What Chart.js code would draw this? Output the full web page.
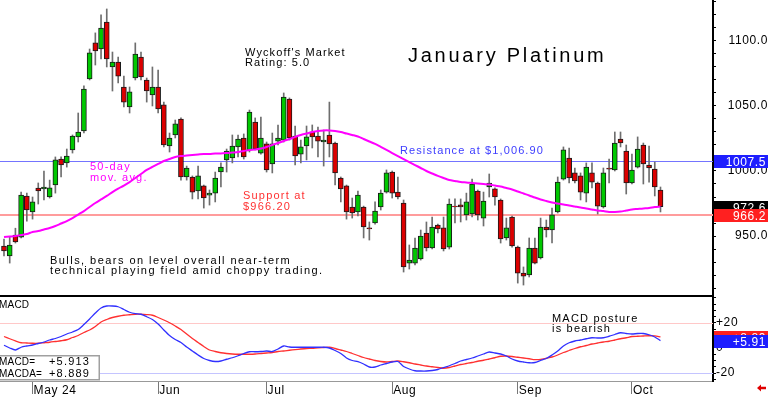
<!DOCTYPE html>
<html>
<head>
<meta charset="utf-8">
<script src="https://cdn.jsdelivr.net/npm/chart.js@4.4.1/dist/chart.umd.min.js"></script>
<style>
html, body { margin: 0; padding: 0; background: #fff; }
#wrap { position: relative; width: 768px; height: 397px; overflow: hidden; }
#priceChart { position: absolute; left: 0; top: 0; }
#macdChart { position: absolute; left: 0; top: 297px; }
</style>
</head>
<body>
<div id="wrap">
  <canvas id="priceChart" width="768" height="297"></canvas>
  <canvas id="macdChart" width="768" height="100"></canvas>
</div>
<script>
// daily candles, 24 Apr 2024 .. 8 Oct 2024
const opens = [942.3, 934.6, 950.8, 949.2, 980.8, 968.5, 986.9, 986.2, 980.0, 989.2,
  1009.2, 1006.2, 1016.2, 1026.2, 1030.8, 1070.8, 1098.5, 1093.8, 1114.6, 1080.0,
  1083.8, 1064.6, 1049.2, 1071.5, 1087.7, 1070.0, 1058.5, 1064.6, 1050.8, 1019.2,
  1027.7, 1040.0, 995.4, 995.4, 984.6, 988.5, 981.5, 983.0, 999.2, 1008.5,
  1010.0, 1018.5, 1025.4, 1016.2, 1037.7, 1013.8, 1020.8, 1005.4, 1023.0, 1023.8,
  1055.4, 1026.9, 1013.0, 1019.2, 1030.0, 1026.9, 1022.3, 1027.7, 1021.5, 994.6,
  988.5, 972.3, 968.5, 972.3, 956.2, 960.0, 972.3, 983.8, 999.2, 983.8,
  975.4, 929.2, 929.2, 932.3, 952.3, 940.8, 958.5, 956.2, 941.5, 973.0,
  974.0, 966.2, 966.9, 984.6, 963.8, 987.7, 986.2, 977.7, 948.5, 964.6,
  941.5, 921.5, 920.0, 940.8, 933.1, 956.9, 954.6, 968.5, 993.8, 1010.0,
  998.5, 996.2, 983.0, 998.5, 990.8, 972.3, 1002.3, 1000.8, 1024.6, 1015.4,
  990.8, 1003.0, 1020.0, 1004.6, 1001.5, 985.4];
const highs = [947.7, 949.2, 956.0, 983.8, 983.0, 980.0, 990.8, 1000.0, 993.0, 1010.8,
  1010.8, 1016.9, 1027.7, 1044.6, 1065.4, 1093.8, 1106.2, 1120.0, 1124.6, 1091.5,
  1087.7, 1073.0, 1064.6, 1098.5, 1091.5, 1071.5, 1080.0, 1077.7, 1053.0, 1029.2,
  1039.2, 1040.8, 1003.8, 996.2, 1003.8, 989.2, 985.4, 999.2, 1006.2, 1016.9,
  1027.7, 1027.7, 1028.5, 1046.9, 1040.8, 1041.5, 1022.3, 1029.2, 1035.4, 1060.0,
  1056.2, 1034.6, 1023.8, 1034.6, 1035.4, 1033.8, 1031.5, 1053.0, 1022.3, 995.4,
  989.2, 979.2, 984.6, 973.0, 960.8, 976.2, 985.4, 1000.8, 1000.0, 995.4,
  977.7, 943.1, 948.5, 954.6, 960.8, 964.6, 959.2, 964.6, 978.5, 978.5,
  978.5, 983.0, 993.8, 985.4, 983.8, 997.7, 987.0, 978.5, 963.8, 965.4,
  942.3, 926.2, 948.5, 948.5, 963.8, 962.3, 971.5, 995.4, 1018.5, 1017.7,
  1002.3, 998.5, 1006.2, 1006.2, 991.5, 1002.3, 1009.2, 1030.0, 1030.0, 1020.0,
  1013.0, 1026.2, 1021.5, 1019.2, 1006.9, 987.7];
const lows = [934.6, 929.2, 944.6, 948.5, 961.5, 963.0, 974.6, 977.7, 979.2, 983.0,
  995.4, 1003.0, 1013.8, 1022.3, 1029.2, 1070.0, 1081.5, 1086.2, 1080.0, 1061.5,
  1067.7, 1049.2, 1044.6, 1070.0, 1070.0, 1053.0, 1050.0, 1044.6, 1018.5, 1014.6,
  1025.4, 993.0, 993.0, 978.5, 978.5, 971.5, 973.8, 976.2, 987.7, 999.2,
  1006.2, 1010.8, 1009.2, 1014.6, 1016.2, 1013.0, 999.2, 998.5, 1020.0, 1022.3,
  1023.8, 1004.6, 1006.2, 1008.5, 1017.7, 1010.8, 1003.8, 1010.8, 989.2, 976.2,
  963.0, 963.8, 965.4, 948.5, 946.9, 959.2, 970.0, 983.0, 979.2, 978.5,
  922.3, 924.6, 927.7, 931.5, 938.5, 940.0, 952.3, 938.5, 940.0, 960.0,
  960.8, 962.3, 964.6, 962.3, 957.7, 980.0, 973.8, 944.6, 946.9, 941.5,
  913.8, 912.3, 918.5, 928.5, 932.3, 949.2, 944.6, 967.7, 993.0, 990.8,
  990.8, 977.7, 976.2, 987.0, 966.9, 971.5, 990.8, 1000.0, 1018.5, 982.3,
  990.0, 1002.3, 990.0, 991.5, 980.8, 968.5];
const closes = [938.5, 943.1, 945.4, 981.5, 970.0, 976.2, 984.6, 987.7, 987.0, 1008.5,
  1004.6, 1011.5, 1026.9, 1030.0, 1063.0, 1090.8, 1092.3, 1110.0, 1086.2, 1083.8,
  1073.0, 1053.0, 1060.8, 1090.0, 1072.3, 1061.5, 1064.6, 1047.7, 1020.0, 1025.4,
  1036.2, 995.4, 1002.3, 983.8, 996.2, 979.2, 983.0, 994.6, 1003.0, 1015.4,
  1019.2, 1024.6, 1010.8, 1045.4, 1016.9, 1025.4, 1000.8, 1020.8, 1025.4, 1056.9,
  1025.4, 1011.5, 1018.5, 1026.2, 1026.2, 1023.0, 1023.8, 1020.8, 998.5, 986.2,
  968.5, 967.7, 981.5, 956.9, 955.4, 969.2, 983.0, 998.5, 983.0, 980.0,
  926.2, 931.5, 940.8, 950.0, 940.8, 956.9, 955.4, 940.0, 974.6, 972.3,
  972.3, 976.2, 990.0, 966.2, 976.9, 990.8, 980.0, 947.7, 956.2, 942.3,
  921.5, 919.2, 940.8, 929.2, 956.9, 954.6, 966.2, 991.5, 1016.2, 994.6,
  992.3, 983.8, 1003.0, 991.5, 973.0, 998.5, 1001.5, 1021.5, 1021.5, 990.8,
  1000.8, 1016.9, 1005.4, 1002.3, 987.7, 972.6];
const ma50 = [949.2, 949.6, 950.0, 950.8, 951.5, 953.1, 953.8, 955.0, 956.2, 957.7,
  959.6, 961.5, 963.8, 966.5, 969.2, 972.3, 975.4, 978.1, 980.8, 983.8,
  986.5, 988.8, 991.5, 994.6, 997.7, 1000.8, 1003.1, 1005.4, 1007.7, 1009.2,
  1010.8, 1011.5, 1011.9, 1012.3, 1012.7, 1013.1, 1013.1, 1013.5, 1013.5, 1013.8,
  1014.2, 1014.6, 1015.4, 1016.2, 1016.5, 1017.3, 1018.5, 1020.0, 1021.5, 1023.1,
  1024.6, 1026.2, 1027.7, 1028.8, 1030.0, 1030.8, 1031.2, 1031.2, 1030.8, 1030.0,
  1028.8, 1027.7, 1026.5, 1024.6, 1022.7, 1020.8, 1018.5, 1016.2, 1013.8, 1011.5,
  1009.2, 1006.9, 1004.6, 1002.3, 1000.0, 998.1, 996.2, 994.6, 993.1, 992.3,
  991.5, 991.2, 990.8, 990.4, 990.0, 989.6, 988.8, 988.1, 986.9, 985.8,
  984.2, 982.7, 981.2, 979.6, 978.1, 976.9, 975.8, 975.0, 974.2, 973.5,
  972.7, 971.9, 971.2, 970.4, 969.6, 969.2, 968.5, 968.5, 968.8, 969.6,
  970.4, 970.8, 971.2, 971.5, 972.3, 972.7];
const macd = [2.2, 0.0, -1.6, 0.6, 1.6, 2.4, 3.6, 4.8, 6.4, 7.6,
  9.2, 11.2, 12.8, 14.8, 18.8, 23.2, 28.0, 32.0, 33.6, 33.6,
  33.0, 30.8, 28.6, 27.5, 27.0, 25.0, 22.8, 19.2, 14.4, 10.0,
  6.8, 4.4, 0.8, -2.4, -5.6, -8.4, -10.0, -10.8, -10.4, -9.0,
  -7.8, -6.2, -4.4, -3.0, -3.0, -2.8, -2.4, -2.8, -0.8, 1.6,
  0.8, 0.6, 0.6, 0.6, 0.6, 0.6, 0.6, 0.0, -2.0, -4.4,
  -8.0, -10.0, -10.9, -12.8, -15.2, -15.2, -13.6, -12.4, -11.2, -10.8,
  -14.8, -16.8, -18.2, -18.4, -18.4, -18.0, -17.2, -15.6, -14.2, -12.4,
  -10.4, -9.2, -8.0, -6.4, -4.8, -3.2, -4.0, -4.8, -6.4, -8.8,
  -10.4, -11.2, -11.8, -11.6, -10.0, -8.4, -5.6, -2.4, 1.6, 4.2,
  5.6, 6.4, 7.4, 8.2, 8.0, 8.2, 9.4, 10.8, 12.2, 11.6,
  11.2, 11.6, 11.6, 10.6, 8.8, 5.913];
const macdAvg = [9.2, 7.4, 5.7, 4.2, 4.0, 3.8, 3.8, 4.2, 4.6, 5.2,
  5.8, 6.6, 8.4, 10.0, 12.4, 14.4, 17.2, 20.8, 22.8, 24.4,
  25.4, 26.2, 26.6, 27.0, 27.0, 26.7, 26.2, 24.4, 22.4, 20.2,
  17.6, 14.8, 11.2, 7.6, 4.4, 1.2, -1.6, -2.8, -3.8, -4.4,
  -4.8, -5.0, -5.0, -5.0, -4.8, -4.4, -4.0, -3.6, -2.8, -2.4,
  -1.8, -1.3, -0.8, -0.4, -0.2, 0.2, 0.4, 0.6, -0.4, -1.6,
  -2.8, -4.4, -6.0, -7.6, -8.8, -10.0, -10.8, -11.2, -10.8, -10.4,
  -11.0, -11.8, -12.8, -13.6, -14.4, -15.0, -15.6, -16.2, -15.6, -14.4,
  -13.2, -12.4, -11.6, -10.6, -9.8, -8.8, -7.8, -6.6, -6.4, -6.8,
  -7.4, -8.0, -8.6, -9.3, -9.2, -8.2, -7.2, -5.6, -3.6, -2.0,
  -0.4, 1.0, 2.0, 3.2, 4.0, 4.8, 5.4, 6.4, 7.4, 8.2,
  9.2, 9.4, 9.6, 9.8, 9.7, 8.889];

// first trading day of each month (candle index) and its label
const monthTicks = [5, 27, 46, 68, 90, 110];
const monthLabels = ['May 24', 'Jun', 'Jul', 'Aug', 'Sep', 'Oct'];
const priceTicks = [950, 1000, 1050, 1100];
const macdTicks = [20, 0, -20];

const resistance = 1007.5;
const support = 966.2;

const xMin = -0.7, xMax = 124.2;
const axisFont = { family: 'Liberation Sans', size: 12 };
const FONT = 'Liberation Sans';

const idx = closes.map((_, i) => i);
const wickData = idx.map(i => ({ x: i, y: [lows[i], highs[i]] }));
const bodyData = idx.map(i => ({ x: i, y: [opens[i], closes[i]] }));
const bodyColors = idx.map(i => closes[i] >= opens[i] ? '#00c800' : '#dc0000');
const maData = idx.map(i => ({ x: i, y: ma50[i] }));
const macdData = idx.map(i => ({ x: i, y: macd[i] }));
const macdAvgData = idx.map(i => ({ x: i, y: macdAvg[i] }));

function text(ctx, str, x, y, size, color, spacing, align) {
    ctx.save();
    ctx.font = size + 'px "' + FONT + '"';
    ctx.fillStyle = color;
    ctx.letterSpacing = (spacing || 0) + 'px';
    ctx.textAlign = align || 'left';
    ctx.textBaseline = 'alphabetic';
    ctx.fillText(str, x, y);
    ctx.restore();
}

function valueBox(chart, value, bg, label) {
    const ctx = chart.ctx;
    const y = chart.scales.y.getPixelForValue(value);
    const left = chart.chartArea.right + 1;
    ctx.save();
    ctx.fillStyle = bg;
    ctx.fillRect(left, Math.round(y) - 6, chart.width - left, 13);
    ctx.restore();
    text(ctx, label, chart.width - 2, Math.round(y) + 5, 12, '#fff', 0.6, 'right');
}

function noPad(s) {
    s.paddingTop = 0;
    s.paddingBottom = 0;
    s.paddingLeft = 0;
    s.paddingRight = 0;
}

const tracking = {
    id: 'tracking',
    beforeLayout(chart) { chart.ctx.letterSpacing = '0.6px'; },
    beforeDraw(chart) { chart.ctx.letterSpacing = '0.6px'; }
};

const priceOverlay = {
    id: 'priceOverlay',
    beforeDatasetsDraw(chart) {
        const { ctx, chartArea } = chart;
        const y = chart.scales.y;
        ctx.save();
        ctx.fillStyle = '#ff9c9c';
        ctx.fillRect(chartArea.left, Math.round(y.getPixelForValue(support)) - 1, chartArea.width, 2);
        ctx.fillStyle = '#7474ff';
        ctx.fillRect(chartArea.left, Math.round(y.getPixelForValue(resistance)), chartArea.width, 1);
        ctx.restore();
    },
    afterDatasetsDraw(chart) {
        const ctx = chart.ctx;
        text(ctx, "Wyckoff's Market", 245, 56, 11, '#000', 1.1);
        text(ctx, 'Rating: 5.0', 245, 66, 11, '#000', 1.1);
        text(ctx, 'January Platinum', 408, 62, 20, '#000', 2.75);
        text(ctx, 'Resistance at $1,006.90', 400, 154, 11, '#3c3cff', 1.1);
        text(ctx, '50-day', 90, 170, 11, '#ff00ff', 1.2);
        text(ctx, 'mov. avg.', 90, 181, 11, '#ff00ff', 1.2);
        text(ctx, 'Support at', 243, 199, 11, '#ff3030', 1.2);
        text(ctx, '$966.20', 243, 210, 11, '#ff3030', 1.2);
        text(ctx, 'Bulls, bears on level overall near-term', 50, 263.5, 11, '#000', 1.45);
        text(ctx, 'technical playing field amid choppy trading.', 50, 274, 11, '#000', 1.45);
    },
    afterDraw(chart) {
        const { ctx, chartArea } = chart;
        ctx.save();
        ctx.fillStyle = '#000';
        ctx.fillRect(chartArea.left, chartArea.bottom - 2, chartArea.width + 1, 2);
        ctx.restore();
        valueBox(chart, resistance, '#1e1eff', resistance.toFixed(1));
        valueBox(chart, closes[closes.length - 1], '#000', closes[closes.length - 1].toFixed(1));
        valueBox(chart, support, '#ff2020', support.toFixed(1));
    }
};

new Chart(document.getElementById('priceChart'), {
    type: 'bar',
    data: {
        datasets: [
            { type: 'bar', data: wickData, backgroundColor: '#6e6e6e', barThickness: 1, grouped: false, order: 3 },
            { type: 'bar', data: bodyData, backgroundColor: bodyColors, borderColor: '#1a1a1a', borderWidth: 1,
              borderSkipped: false, barThickness: 5, grouped: false, order: 2 },
            { type: 'line', data: maData, borderColor: '#ff00ff', borderWidth: 2, pointRadius: 0, tension: 0.3, order: 1 }
        ]
    },
    options: {
        responsive: false,
        animation: false,
        events: [],
        layout: { padding: 0 },
        plugins: { legend: { display: false }, tooltip: { enabled: false } },
        scales: {
            x: { type: 'linear', min: xMin, max: xMax, offset: false, display: false },
            y: {
                type: 'linear', position: 'right', min: 903.1, max: 1131.5,
                afterFit: s => { s.width = 55; noPad(s); },
                afterBuildTicks: s => {
                    s.ticks = [];
                    for (let v = 910; v <= 1130; v += 10) s.ticks.push({ value: v });
                },
                ticks: {
                    autoSkip: false, crossAlign: 'far', padding: 6, color: '#000', font: axisFont,
                    callback: v => priceTicks.includes(v) ? v.toFixed(1) : ''
                },
                grid: { drawOnChartArea: false, drawTicks: true, tickLength: 3, color: '#000' },
                border: { display: true, color: '#000', width: 2 }
            }
        }
    },
    plugins: [tracking, priceOverlay]
});

const macdOverlay = {
    id: 'macdOverlay',
    beforeDatasetsDraw(chart) {
        const { ctx, chartArea } = chart;
        const y = chart.scales.y;
        ctx.save();
        ctx.fillStyle = '#ffc8c8';
        ctx.fillRect(chartArea.left, Math.round(y.getPixelForValue(20)), chartArea.width, 1);
        ctx.fillStyle = '#c4c4ff';
        ctx.fillRect(chartArea.left, Math.round(y.getPixelForValue(-20)), chartArea.width, 1);
        ctx.restore();
    },
    afterDraw(chart) {
        const ctx = chart.ctx;
        text(ctx, 'MACD', -1, 10.5, 10, '#000', 0.2);
        text(ctx, 'MACD posture', 552, 24.7, 11, '#000', 1.2);
        text(ctx, 'is bearish', 552, 34.7, 11, '#000', 1.2);

        ctx.save();
        ctx.fillStyle = '#fff';
        ctx.fillRect(0, 58, 100, 25);
        ctx.strokeStyle = '#a0a0a0';
        ctx.lineWidth = 1.5;
        ctx.strokeRect(-1, 58.75, 100.25, 24);
        ctx.restore();
        const lastMacd = macd[macd.length - 1];
        const lastAvg = macdAvg[macdAvg.length - 1];
        text(ctx, 'MACD=', -1, 67.5, 10, '#000', 0.2);
        text(ctx, '+' + lastMacd.toFixed(3), 49, 67.5, 11, '#000', 1.2);
        text(ctx, 'MACDA=', -1, 79.5, 10, '#000', 0.2);
        text(ctx, '+' + lastAvg.toFixed(3), 49, 79.5, 11, '#000', 1.2);

        valueBox(chart, lastAvg, '#ff2020', '+' + lastAvg.toFixed(2));
        valueBox(chart, lastMacd, '#1e1eff', '+' + lastMacd.toFixed(2));

        // small red arrow in the corner
        ctx.save();
        ctx.fillStyle = '#e00000';
        ctx.beginPath();
        ctx.moveTo(757, 91);
        ctx.lineTo(761, 87.5);
        ctx.lineTo(761, 89.8);
        ctx.lineTo(766, 89.8);
        ctx.lineTo(766, 92.2);
        ctx.lineTo(761, 92.2);
        ctx.lineTo(761, 94.5);
        ctx.closePath();
        ctx.fill();
        ctx.restore();
    }
};

new Chart(document.getElementById('macdChart'), {
    type: 'line',
    data: {
        datasets: [
            { data: macdData, borderColor: '#3030ff', borderWidth: 1.3, pointRadius: 0, tension: 0.25, order: 1 },
            { data: macdAvgData, borderColor: '#ff3030', borderWidth: 1.3, pointRadius: 0, tension: 0.25, order: 2 }
        ]
    },
    options: {
        responsive: false,
        animation: false,
        events: [],
        layout: { padding: 0 },
        plugins: { legend: { display: false }, tooltip: { enabled: false } },
        scales: {
            x: {
                type: 'linear', position: 'bottom', min: xMin, max: xMax, offset: false,
                afterFit: s => { s.height = 16; noPad(s); },
                afterBuildTicks: s => { s.ticks = monthTicks.map(v => ({ value: v })); },
                ticks: {
                    autoSkip: false, maxRotation: 0, align: 'start', labelOffset: 1, padding: -11,
                    color: '#000', font: axisFont,
                    callback: v => monthLabels[monthTicks.indexOf(v)]
                },
                grid: { drawOnChartArea: false, drawTicks: true, tickLength: 13, color: '#777' },
                border: { display: true, color: '#999', width: 1 }
            },
            y: {
                type: 'linear', position: 'right', min: -26.4, max: 40.8,
                afterFit: s => { s.width = 55; noPad(s); },
                afterBuildTicks: s => {
                    s.ticks = [];
                    for (let v = -25; v <= 40; v += 5) s.ticks.push({ value: v });
                },
                ticks: {
                    autoSkip: false, crossAlign: 'near', padding: 0, color: '#000', font: axisFont,
                    callback: v => macdTicks.includes(v) ? (v > 0 ? '+' + v : String(v)) : ''
                },
                grid: { drawOnChartArea: false, drawTicks: true, tickLength: 3, color: '#000' },
                border: { display: true, color: '#000', width: 2 }
            }
        }
    },
    plugins: [tracking, macdOverlay]
});
</script>
</body>
</html>
